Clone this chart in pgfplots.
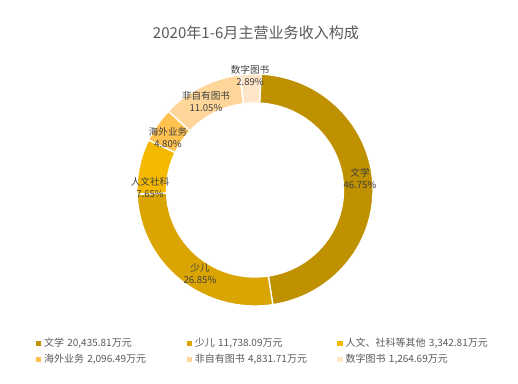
\documentclass[border=0pt]{standalone}
\usepackage{fontspec}
\setmainfont{Noto Sans CJK SC}
\usepackage{pgfplots}
\usepackage{pgfplotstable}
\pgfplotsset{compat=1.18}
\definecolor{seg0}{RGB}{191,144,0}
\definecolor{seg1}{RGB}{218,165,0}
\definecolor{seg2}{RGB}{244,185,0}
\definecolor{seg3}{RGB}{255,194,80}
\definecolor{seg4}{RGB}{255,214,153}
\definecolor{seg5}{RGB}{255,230,200}
\definecolor{titlegray}{RGB}{89,89,89}
\definecolor{labelgray}{RGB}{64,64,64}

% 主营业务收入（万元）
\pgfplotstableread{
value
20435.81
11738.09
3342.81
2096.49
4831.71
1264.69
}\shares

\newcommand\cx{255}
\newcommand\cy{193}
\newcommand\startang{87}

\begin{document}
\begin{tikzpicture}
\begin{axis}[x=0.75pt,y=0.75pt,xmin=0,xmax=518,ymin=0,ymax=383,
  hide axis,clip=false,
  legend image code/.code={\fill[#1] (0pt,-1.6pt) rectangle (3.2pt,1.6pt);},
  legend columns=3,
  legend style={draw=none,fill=none,inner sep=0pt,
    at={(axis cs:35.5,45.1)},anchor=north west,
    font=\fontsize{7.5}{9}\selectfont,text=titlegray,
    nodes={inner sep=0pt,text width=106.9pt,align=left,text height=6.5pt,text depth=1.5pt},
    /tikz/column sep=0pt,
    /tikz/every odd column/.append style={column sep=2.6pt},
    /tikz/row sep=4pt},
]
\path (axis cs:0,0) rectangle (axis cs:518,383);
\pgfplotsextra{
  \gdef\total{0}
  \foreach \i in {0,...,5}{%
    \pgfplotstablegetelem{\i}{value}\of\shares
    \xdef\total{\fpeval{\total+\pgfplotsretval}}%
  }
  \gdef\cum{0}
  \foreach \i in {0,...,5}{%
    \pgfplotstablegetelem{\i}{value}\of\shares
    \edef\a{\fpeval{\startang-360*\cum/\total}}%
    \xdef\cum{\fpeval{\cum+\pgfplotsretval}}%
    \edef\b{\fpeval{\startang-360*\cum/\total}}%
    \filldraw[fill=seg\i,draw=white,line width=1pt]
      (axis cs:\cx,\cy) ++(\a:88.5pt and 87pt)
      arc[start angle=\a,end angle=\b,x radius=88.5pt,y radius=87pt]
      -- ++(\b:-22.1pt and -21.75pt)
      arc[start angle=\b,end angle=\a,x radius=66.4pt,y radius=65.25pt]
      -- cycle;
  }
}
\addlegendimage{seg0}\addlegendentry{文学 20,435.81万元}
\addlegendimage{seg1}\addlegendentry{少儿 11,738.09万元}
\addlegendimage{seg2}\addlegendentry{人文、社科等其他 3,342.81万元}
\addlegendimage{seg3}\addlegendentry{海外业务 2,096.49万元}
\addlegendimage{seg4}\addlegendentry{非自有图书 4,831.71万元}
\addlegendimage{seg5}\addlegendentry{数字图书 1,264.69万元}

\node[font=\fontsize{11.3}{13}\selectfont,text=titlegray] at (axis cs:256,350) {2020年1-6月主营业务收入构成};
\begin{scope}[every node/.style={align=center,font=\fontsize{7.2}{9}\selectfont,text=labelgray}]
\node at (axis cs:360,204.5) {文学\\46.75\%};
\node at (axis cs:200,109.5) {少儿\\26.85\%};
\node at (axis cs:150,196) {人文社科\\7.65\%};
\node at (axis cs:168,245) {海外业务\\4.80\%};
\node at (axis cs:206,281) {非自有图书\\11.05\%};
\node at (axis cs:250,308) {数字图书\\2.89\%};
\end{scope}
\end{axis}
\end{tikzpicture}
\end{document}
